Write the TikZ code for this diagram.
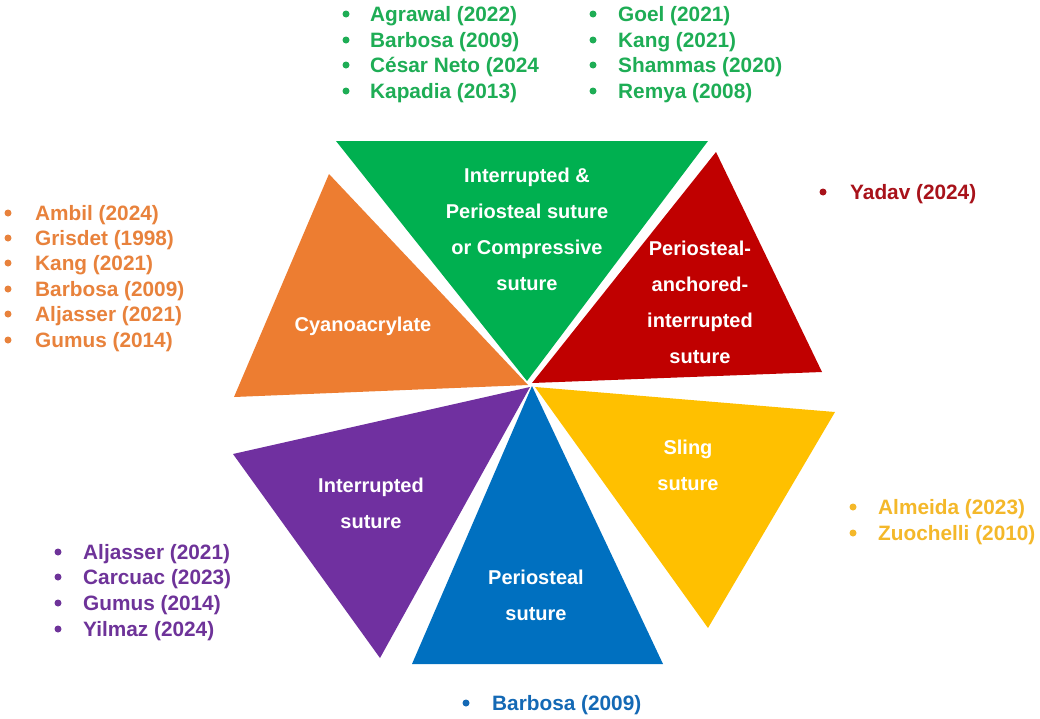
\documentclass[tikz,border=0pt]{standalone}
\usepackage{fontspec}
\setmainfont{Liberation Sans}
\definecolor{cgreen}{HTML}{00B050}
\definecolor{cred}{HTML}{C00000}
\definecolor{corange}{HTML}{ED7D31}
\definecolor{cyellow}{HTML}{FFC000}
\definecolor{cblue}{HTML}{0070C0}
\definecolor{cpurple}{HTML}{7030A0}
\definecolor{tgreen}{HTML}{1EAD55}
\definecolor{tred}{HTML}{A8121A}
\definecolor{torange}{HTML}{E8823C}
\definecolor{tyellow}{HTML}{F4B82A}
\definecolor{tblue}{HTML}{1469B5}
\definecolor{tpurple}{HTML}{6E3399}
\tikzset{
  inlabel/.style={text=white,font=\bfseries\fontsize{20}{36}\selectfont,align=center,inner sep=0pt},
  ref/.style={anchor=base west,font=\bfseries\fontsize{20.8}{24}\selectfont,inner sep=0pt,yshift=-7pt},
  dotb/.style={circle,inner sep=0pt,minimum size=7pt}
}
\begin{document}
\begin{tikzpicture}[x=1pt,y=-1pt]
\useasboundingbox (0,0) rectangle (1040,718);
\fill[white] (0,0) rectangle (1040,718);
% triangles
\fill[cgreen] (336,141) -- (708,141) -- (527,381) -- cycle;
\fill[cred] (716,152) -- (822,372) -- (532,383) -- cycle;
\fill[corange] (329,174) -- (528,385) -- (234,397) -- cycle;
\fill[cyellow] (535,387) -- (835,412) -- (708,628) -- cycle;
\fill[cblue] (532,386) -- (663,664) -- (412,664) -- cycle;
\fill[cpurple] (530,387) -- (380,658) -- (233,454) -- cycle;
% inner labels
\node[inlabel] (lgreen) at (527,229) {Interrupted \&\\Periosteal suture\\or Compressive\\suture};
\node[inlabel] (lred) at (700,302) {Periosteal-\\anchored-\\interrupted\\suture};
\node[inlabel] (lorange) at (363,326) {Cyanoacrylate};
\node[inlabel] (lyellow) at (688,465) {Sling\\suture};
\node[inlabel] (lblue) at (536,595) {Periosteal\\suture};
\node[inlabel] (lpurple) at (371,503) {Interrupted\\suture};
% reference lists
\foreach \n/\t/\y in {g1/Agrawal (2022)/14, g2/Barbosa (2009)/40, g3/César Neto (2024/65, g4/Kapadia (2013)/91}{
  \node[dotb,fill=tgreen] (\n b) at (346,\y) {};
  \node[ref,text=tgreen] (\n) at (370,\y) {\t};}
\foreach \n/\t/\y in {g5/Goel (2021)/14, g6/Kang (2021)/40, g7/Shammas (2020)/65, g8/Remya (2008)/91}{
  \node[dotb,fill=tgreen] (\n b) at (593,\y) {};
  \node[ref,text=tgreen] (\n) at (618,\y) {\t};}
\foreach \n/\t/\y in {o1/Ambil (2024)/213, o2/Grisdet (1998)/238, o3/Kang (2021)/263, o4/Barbosa (2009)/289, o5/Aljasser (2021)/314, o6/Gumus (2014)/340}{
  \node[dotb,fill=torange] (\n b) at (8,\y) {};
  \node[ref,text=torange] (\n) at (35,\y) {\t};}
\node[dotb,fill=tred] (r1b) at (823,192) {};
\node[ref,text=tred] (r1) at (850,192) {Yadav (2024)};
\foreach \n/\t/\y in {y1/Almeida (2023)/507, y2/Zuochelli (2010)/533}{
  \node[dotb,fill=tyellow] (\n b) at (853,\y) {};
  \node[ref,text=tyellow] (\n) at (878,\y) {\t};}
\foreach \n/\t/\y in {p1/Aljasser (2021)/552, p2/Carcuac (2023)/577, p3/Gumus (2014)/603, p4/Yilmaz (2024)/629}{
  \node[dotb,fill=tpurple] (\n b) at (58,\y) {};
  \node[ref,text=tpurple] (\n) at (83,\y) {\t};}
\node[dotb,fill=tblue] (b1b) at (466,703) {};
\node[ref,text=tblue] (b1) at (492,703) {Barbosa (2009)};
\end{tikzpicture}
\end{document}
